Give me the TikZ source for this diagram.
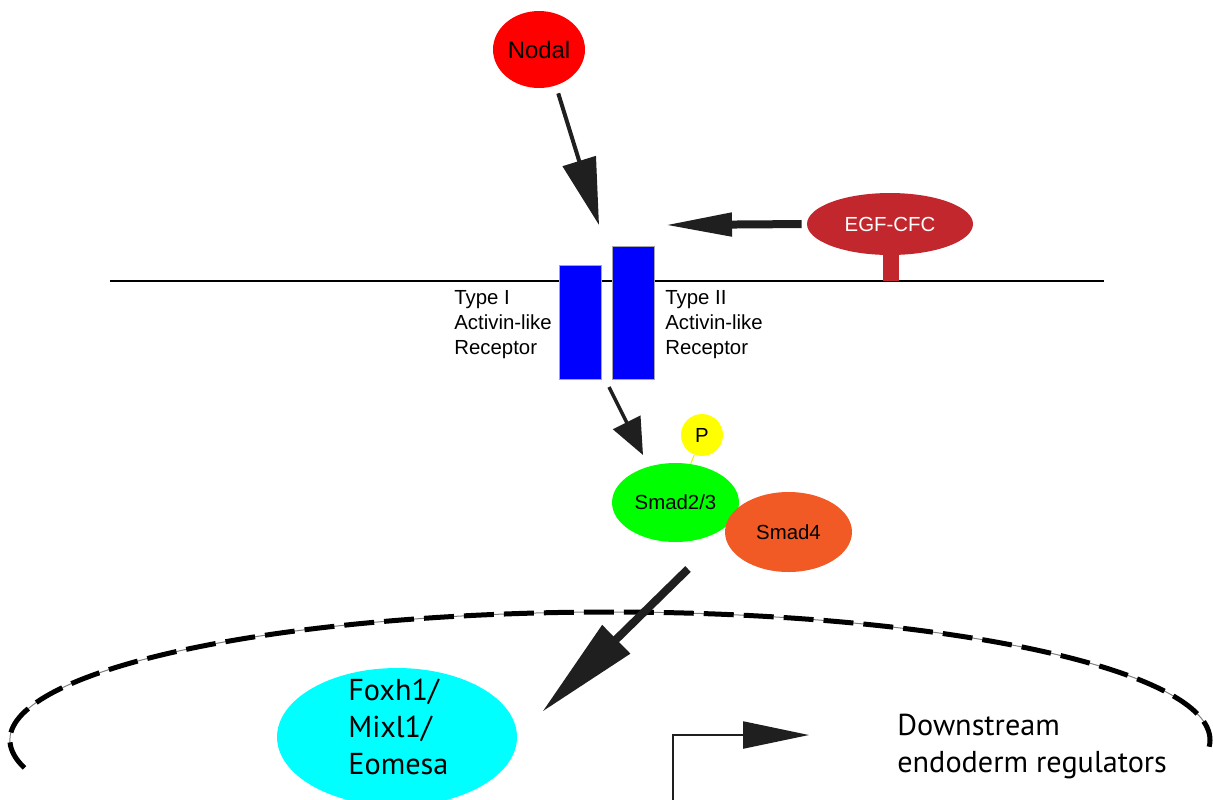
\documentclass[tikz,border=0pt]{standalone}
\usepackage{fontspec}
\setmainfont{Liberation Sans}
\newfontfamily\myriad{PT Sans}
\usetikzlibrary{arrows.meta,shapes.geometric}
\definecolor{arrowgray}{HTML}{1F1F1F}
\definecolor{egfred}{HTML}{C1272D}
\definecolor{smadorange}{HTML}{F15A24}
\definecolor{smadgreen}{HTML}{00FF00}
\definecolor{foxcyan}{HTML}{00FFFF}
\definecolor{rcpblue}{HTML}{0000FF}
\definecolor{pyellow}{HTML}{FFFF00}
\begin{document}
\begin{tikzpicture}[x=0.02cm,y=-0.02cm,
  blob/.style={ellipse, inner sep=0pt, font=\fontsize{11.6}{14}\selectfont},
  rcp/.style={rectangle, fill=rcpblue, draw=gray!70, line width=0.3pt, inner sep=0pt, minimum width=0.84cm},
  lbl/.style={anchor=base west, align=left, inner sep=0pt, font=\fontsize{11.6}{14.2}\selectfont},
  biglbl/.style={anchor=base west, align=left, inner sep=0pt, font=\myriad\fontsize{17.2}{21}\selectfont},
  sig/.style={draw=arrowgray, line width=#1}
]
\useasboundingbox (0,0) rectangle (1213,799);

% nuclear envelope
\draw[gray, line width=0.02cm] ([shift={(167.4:600 and 128)}]610,740) arc[start angle=167.4, end angle=363, x radius=600, y radius=128];
\draw[black, line width=0.1cm, dash pattern=on 0.6cm off 0.2cm] ([shift={(167.4:600 and 128)}]610,740) arc[start angle=167.4, end angle=363, x radius=600, y radius=128];

% membrane
\coordinate (mL) at (110,281);
\coordinate (mR) at (1104,281);
\draw[line width=0.03cm] (mL) -- (mR);

% EGF-CFC stem and head
\fill[egfred] (883,254) rectangle (899,281);
\node[blob, fill=egfred, text=white, minimum width=3.32cm, minimum height=1.24cm] (egf) at (890,224) {EGF-CFC};

% Nodal
\node[blob, fill=red, minimum width=1.84cm, minimum height=1.54cm, font=\fontsize{13.6}{16}\selectfont] (nodal) at (539,49.5) {Nodal};

% receptors
\node[rcp, minimum height=2.28cm] (recI) at (580,322) {};
\node[rcp, minimum height=2.66cm] (recII) at (633,312.5) {};
\node[lbl] (lblI) at (454,354) {Type I\\Activin-like\\Receptor};
\node[lbl] (lblII) at (665,354) {Type II\\Activin-like\\Receptor};

% Smads
\node[blob, fill=smadgreen, minimum width=2.54cm, minimum height=1.58cm] (smad23) at (675.5,502.5) {Smad2/3};
\node[blob, fill=smadorange, minimum width=2.54cm, minimum height=1.6cm] (smad4) at (788.5,532) {Smad4};
\node[circle, fill=pyellow, inner sep=0pt, minimum size=0.84cm, font=\fontsize{11.6}{14}\selectfont] (P) at (702,435) {P};
\draw[pyellow!80!orange, line width=0.02cm] (P) -- (smad23);

% nucleus contents
\node[ellipse, fill=foxcyan, inner sep=0pt, minimum width=4.8cm, minimum height=2.76cm] (fox) at (397,737) {};
\node[biglbl] (foxlbl) at (348,774) {Foxh1/\\Mixl1/\\Eomesa};
\node[biglbl] (down) at (897,772) {Downstream\\endoderm regulators};

% arrows
\coordinate (nodalEnd) at (599,225);
\draw[sig=0.08cm, shorten <=0.16cm, -{Triangle[length=1.34cm,width=0.68cm]}] (nodal.-65) -- (nodalEnd);

\coordinate (egfEnd) at (664,225);
\draw[sig=0.16cm, shorten <=0.1cm, -{Triangle[length=1.36cm,width=0.44cm]}] (egf.west) -- (egfEnd);

\coordinate (rcpOut) at (609,387);
\coordinate (smadIn) at (643,455);
\draw[sig=0.07cm, -{Triangle[length=0.73cm,width=0.6cm]}] (rcpOut) -- (smadIn);

\coordinate (smadOut) at (688,569);
\coordinate (foxIn) at (542,712);
\draw[sig=0.16cm, -{Triangle[length=2.08cm,width=0.76cm]}] (smadOut) -- (foxIn);

\coordinate (promBot) at (673,805);
\coordinate (promTip) at (809,735);
\draw[sig=0.045cm, -{Triangle[length=1.32cm,width=0.54cm]}] (promBot) |- (promTip);
\end{tikzpicture}
\end{document}
